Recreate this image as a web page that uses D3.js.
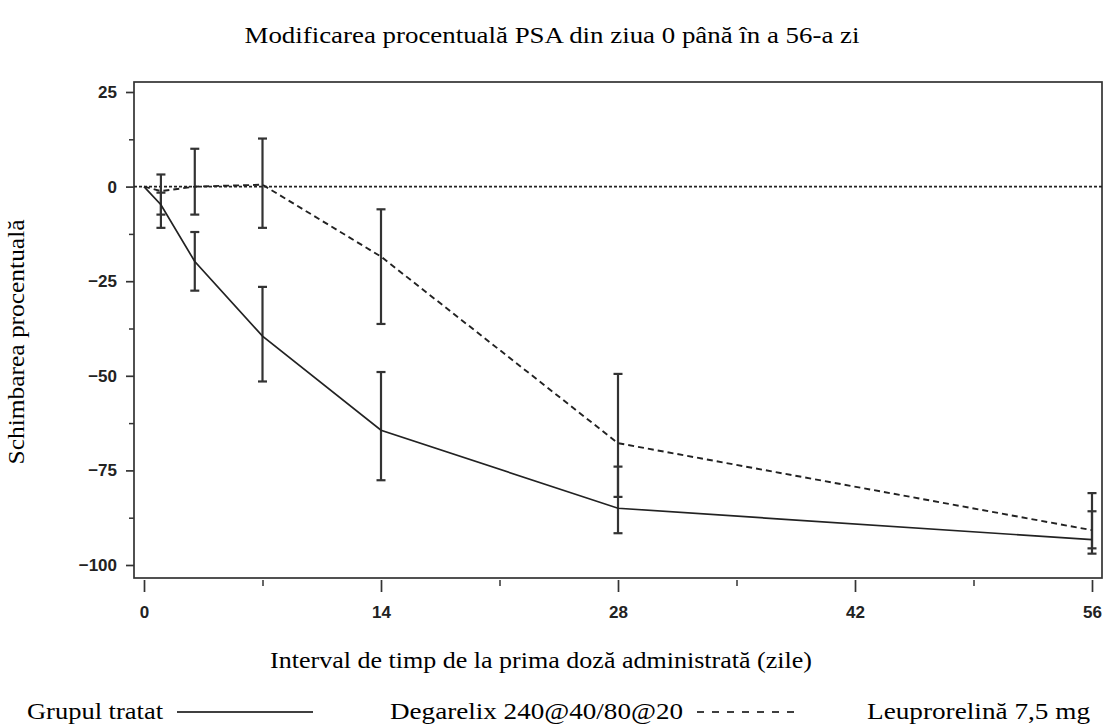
<!DOCTYPE html>
<html><head><meta charset="utf-8">
<script src="https://cdn.jsdelivr.net/npm/d3@7"></script>
<style>body{margin:0;background:#fff}svg{display:block}</style>
</head><body>
<svg id="c" width="1105" height="727"></svg>
<script>
const days = [0, 1, 3, 7, 14, 28, 56];
const degMean = [0, -4.8, -19.8, -39.5, -64.4, -85, -93.3];
const degLow  = [0, -7.4, -27.5, -51.5, -77.6, -91.6, -97];
const degHigh = [0, -1.6, -12, -26.5, -49, -74, -85.8];
const leuMean = [0, -1.2, 0, 0.5, -18.5, -67.8, -90.8];
const leuLow  = [0, -10.9, -7.4, -10.9, -36.3, -82, -95.6];
const leuHigh = [0, 3.2, 10, 12.7, -6, -49.5, -81];
const xTicks = [0, 14, 28, 42, 56];
const xMinor = [7, 21, 35, 49];
const yTicks = [25, 0, -25, -50, -75, -100];
const yMinor = [12.5, -12.5, -37.5, -62.5, -87.5];

const svg = d3.select("#c");
const x = d3.scaleLinear().domain([0, 56]).range([144, 1092]);
const y = d3.scaleLinear().domain([-100, 25]).range([565, 92]);
const frame = {l: 134, t: 82, r: 1102, b: 578};
const ink = "#222";
const serif = "'Liberation Serif','Times New Roman',serif";
const sans = "'Liberation Sans',Arial,sans-serif";

// frame
svg.append("rect").attr("x", frame.l).attr("y", frame.t)
  .attr("width", frame.r - frame.l).attr("height", frame.b - frame.t)
  .attr("fill", "none").attr("stroke", "#333").attr("stroke-width", 1.7);

// y axis
const yAxis = d3.axisLeft(y).tickValues(yTicks).tickSize(8).tickPadding(9).tickFormat(d3.format("d"));
const gy = svg.append("g").attr("transform", `translate(${frame.l},0)`).call(yAxis);
gy.select(".domain").remove();
gy.selectAll("line").attr("stroke", "#333").attr("stroke-width", 1.7);
gy.selectAll("text").attr("font-family", sans).attr("font-weight", "bold")
  .attr("font-size", 17).attr("fill", ink);
const gym = svg.append("g").attr("transform", `translate(${frame.l},0)`)
  .call(d3.axisLeft(y).tickValues(yMinor).tickSize(5).tickFormat(""));
gym.select(".domain").remove();
gym.selectAll("line").attr("stroke", "#333").attr("stroke-width", 1.5);

// x axis
const xAxis = d3.axisBottom(x).tickValues(xTicks).tickSize(12).tickPadding(14).tickFormat(d3.format("d"));
const gx = svg.append("g").attr("transform", `translate(0,${frame.b + 2})`).call(xAxis);
gx.select(".domain").remove();
gx.selectAll("line").attr("stroke", "#333").attr("stroke-width", 1.7);
gx.selectAll("text").attr("font-family", sans).attr("font-weight", "bold")
  .attr("font-size", 17).attr("fill", ink);
const gxm = svg.append("g").attr("transform", `translate(0,${frame.b + 2})`)
  .call(d3.axisBottom(x).tickValues(xMinor).tickSize(6).tickFormat(""));
gxm.select(".domain").remove();
gxm.selectAll("line").attr("stroke", "#333").attr("stroke-width", 1.5);

// zero reference line
svg.append("line").attr("x1", frame.l).attr("x2", frame.r)
  .attr("y1", y(0)).attr("y2", y(0))
  .attr("stroke", ink).attr("stroke-width", 1.7).attr("stroke-dasharray", "3,2");

// error bars
function errBars(low, high) {
  const g = svg.append("g").attr("stroke", "#333").attr("stroke-width", 2.2);
  days.forEach((d, i) => {
    if (low[i] === high[i]) return;
    const cx = x(d);
    g.append("line").attr("x1", cx).attr("x2", cx).attr("y1", y(low[i])).attr("y2", y(high[i]));
    [low[i], high[i]].forEach(v => {
      g.append("line").attr("x1", cx - 4.5).attr("x2", cx + 4.5).attr("y1", y(v)).attr("y2", y(v));
    });
  });
}
errBars(degLow, degHigh);
errBars(leuLow, leuHigh);

const line = d3.line().x((d, i) => x(days[i])).y(d => y(d));
svg.append("path").datum(degMean).attr("d", line).attr("fill", "none")
  .attr("stroke", ink).attr("stroke-width", 1.7);
svg.append("path").datum(leuMean).attr("d", line).attr("fill", "none")
  .attr("stroke", ink).attr("stroke-width", 1.9).attr("stroke-dasharray", "6,4");

// titles
svg.append("text").attr("x", 552).attr("y", 43).attr("text-anchor", "middle")
  .attr("font-family", serif).attr("font-size", 24).attr("fill", "#000")
  .attr("textLength", 615).attr("lengthAdjust", "spacingAndGlyphs")
  .text("Modificarea procentuală PSA din ziua 0 până în a 56-a zi");
svg.append("text").attr("x", 541).attr("y", 668).attr("text-anchor", "middle")
  .attr("font-family", serif).attr("font-size", 24).attr("fill", "#000")
  .attr("textLength", 542).attr("lengthAdjust", "spacingAndGlyphs")
  .text("Interval de timp de la prima doză administrată (zile)");
svg.append("text").attr("transform", "translate(24,342) rotate(-90)").attr("text-anchor", "middle")
  .attr("font-family", serif).attr("font-size", 24).attr("fill", "#000")
  .attr("textLength", 245).attr("lengthAdjust", "spacingAndGlyphs")
  .text("Schimbarea procentuală");

// legend
const legY = 719;
function legText(xp, w, t) {
  svg.append("text").attr("x", xp).attr("y", legY)
    .attr("font-family", serif).attr("font-size", 24).attr("fill", "#000")
    .attr("textLength", w).attr("lengthAdjust", "spacingAndGlyphs").text(t);
}
legText(27, 136, "Grupul tratat");
svg.append("line").attr("x1", 177).attr("x2", 313).attr("y1", legY - 7).attr("y2", legY - 7)
  .attr("stroke", "#000").attr("stroke-width", 1.3);
legText(390, 293, "Degarelix 240@40/80@20");
svg.append("line").attr("x1", 697).attr("x2", 797).attr("y1", legY - 7).attr("y2", legY - 7)
  .attr("stroke", "#000").attr("stroke-width", 1.3).attr("stroke-dasharray", "7,8");
legText(867, 223, "Leuprorelină 7,5 mg");
</script>
</body></html>
